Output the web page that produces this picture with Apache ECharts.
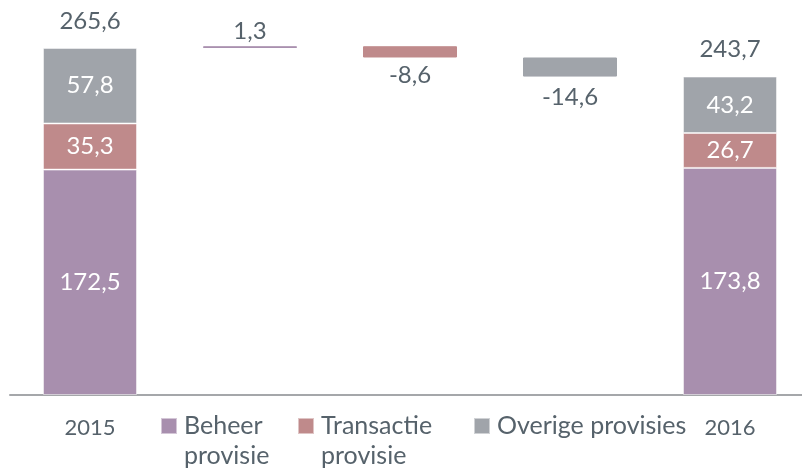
<!DOCTYPE html>
<html>
<head>
<meta charset="utf-8">
<script src="https://cdn.jsdelivr.net/npm/echarts@6/dist/echarts.min.js"></script>
<style>
html, body { margin: 0; padding: 0; background: #fff; }
#chart { width: 802px; height: 474px; }
</style>
</head>
<body>
<div id="chart"></div>
<script>
// categorieen en waarden (mln)
var categories = ['2015', 'Beheer provisie', 'Transactie provisie', 'Overige provisies', '2016'];
var beheer = [172.5, 173.8];
var transactie = [35.3, 26.7];
var overige = [57.8, 43.2];
var totals = [265.6, 243.7];
var deltas = [1.3, -8.6, -14.6];

var colors = ['#a88fae', '#bf8a8b', '#a0a4aa'];
var textColor = '#56626b';
var font = 'Lato';
// afstand label tot balk per delta
var deltaGap = [3, 6, 9];

function fmt(v) {
  return v.toFixed(1).replace('.', ',');
}

function yearData(arr) {
  return [arr[0], '-', '-', '-', arr[1]];
}

// onzichtbare basis + zwevende delta balken
var baseData = ['-'];
var deltaData = ['-'];
var running = totals[0];
for (var i = 0; i < deltas.length; i++) {
  var d = deltas[i];
  baseData.push(d >= 0 ? running : running + d);
  deltaData.push({
    value: Math.abs(d),
    itemStyle: { color: colors[i], borderColor: colors[i], borderWidth: 1 },
    label: { position: d >= 0 ? 'top' : 'bottom', distance: deltaGap[i] }
  });
  running += d;
}
baseData.push('-');
deltaData.push('-');

var insideLabel = {
  show: true,
  position: 'inside',
  color: '#fff',
  fontFamily: font,
  fontSize: 24,
  formatter: function (p) { return fmt(p.value); }
};

function segment(name, arr, color) {
  return {
    name: name,
    type: 'bar',
    stack: 'w',
    barWidth: 94,
    data: yearData(arr),
    itemStyle: { color: color, borderColor: 'rgba(255,255,255,0.5)', borderWidth: 1 },
    label: insideLabel
  };
}

var legendBase = {
  padding: 0,
  itemWidth: 16,
  itemHeight: 16,
  icon: 'rect',
  selectedMode: false,
  textStyle: {
    fontFamily: font,
    fontSize: 25,
    color: textColor,
    lineHeight: 30,
    padding: [0, 0, 0, 2]
  },
  // lege eerste regel zodat de eerste tekstregel naast het blokje staat
  formatter: function (name) { return '\n' + name.replace(' ', '\n'); }
};

var myChart = echarts.init(document.getElementById('chart'));
myChart.setOption({
  animation: false,
  grid: { left: 10, width: 800, top: 3, bottom: 79, containLabel: false, outerBoundsMode: 'none' },
  legend: [
    Object.assign({}, legendBase, { data: ['Beheer provisie'], left: 160, top: 381 }),
    Object.assign({}, legendBase, { data: ['Transactie provisie'], left: 297, top: 381 }),
    Object.assign({}, legendBase, {
      data: ['Overige provisies'], left: 473, top: 411,
      formatter: null
    })
  ],
  xAxis: {
    type: 'category',
    data: categories,
    axisLine: { lineStyle: { color: '#a5a7aa', width: 2 } },
    axisTick: { show: false },
    axisLabel: {
      margin: 22,
      fontFamily: font,
      fontSize: 22,
      color: textColor,
      formatter: function (v, idx) { return (idx === 0 || idx === 4) ? v : ''; }
    }
  },
  yAxis: {
    type: 'value',
    min: 0,
    max: 300,
    show: false,
    splitLine: { show: false }
  },
  series: [
    {
      name: 'basis',
      type: 'bar',
      stack: 'w',
      barWidth: 94,
      data: baseData,
      itemStyle: { color: 'transparent' },
      silent: true
    },
    segment('Beheer provisie', beheer, colors[0]),
    segment('Transactie provisie', transactie, colors[1]),
    segment('Overige provisies', overige, colors[2]),
    {
      name: 'delta',
      type: 'bar',
      stack: 'w',
      barWidth: 94,
      data: deltaData,
      label: {
        show: true,
        color: textColor,
        fontFamily: font,
        fontSize: 24,
        formatter: function (p) { return fmt(deltas[p.dataIndex - 1]); }
      }
    },
    {
      name: 'totaal',
      type: 'bar',
      stack: 'w',
      barWidth: 94,
      data: [0, '-', '-', '-', 0],
      itemStyle: { color: 'transparent' },
      label: {
        show: true,
        position: 'top',
        distance: 15,
        color: textColor,
        fontFamily: font,
        fontSize: 24,
        formatter: function (p) { return fmt(totals[p.dataIndex === 0 ? 0 : 1]); }
      }
    }
  ]
});
</script>
</body>
</html>
